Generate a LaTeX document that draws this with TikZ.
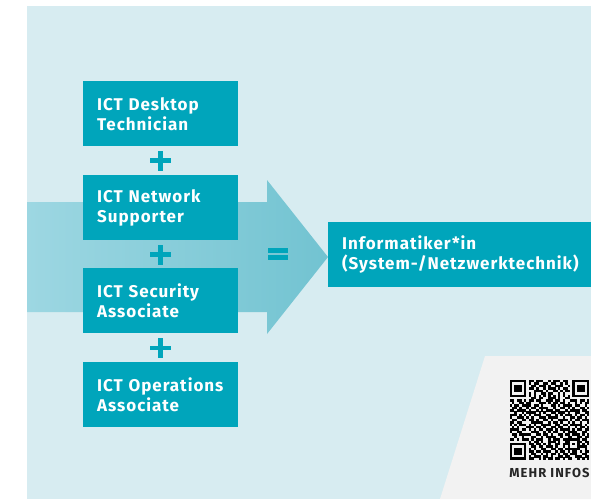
\documentclass[tikz,border=0pt]{standalone}
\usepackage{fontspec}
\setmainfont{Fira Sans}
\definecolor{panelc}{HTML}{D7ECF1}
\definecolor{boxc}{HTML}{00A5BB}
\definecolor{greyc}{HTML}{F2F2F2}
\definecolor{arrowl}{HTML}{9DD7E2}
\definecolor{arrowr}{HTML}{72C3D1}
\tikzset{
 course/.style={fill=boxc,text=white,minimum width=155pt,minimum height=65pt,inner sep=0pt,font=\bfseries\fontsize{17}{20}\selectfont\addfontfeature{LetterSpace=5.7},align=left,text width=127pt,anchor=north west},
 sign/.style={fill=boxc,draw=none}
}
\newcount\qrx
\newcount\qry
\def\qrscan#1{\ifx#1.\else\if#11\fill[black] ({509.5+\the\qrx*2.42},{380+\the\qry*2.42}) rectangle +(2.47,2.47);\fi\advance\qrx by 1 \expandafter\qrscan\fi}
\def\qrrow#1{\qrx=0 \qrscan#1.\advance\qry by 1 }
\begin{document}
\begin{tikzpicture}[x=1pt,y=-1pt]
\useasboundingbox (0,0) rectangle (591,499);
\fill[white] (0,0) rectangle (591,499);
\fill[panelc] (27,6) rectangle (591,499);
\shade[left color=arrowl,right color=arrowr] (27,202) -- (267,202) -- (267,180) -- (328,257) -- (267,334) -- (267,312) -- (27,312) -- cycle;
\node[course] (a) at (83,81) {ICT Desktop\\Technician};
\node[course] (b) at (83,175) {ICT Network\\Supporter};
\node[course] (c) at (83,268) {ICT Security\\Associate};
\node[course] (d) at (83,362) {ICT Operations\\Associate};
\node[course,minimum width=263pt,text width=235pt] (e) at (328,222) {Informatiker*in\\\mbox{(System-/Netzwerktechnik)}};
\foreach \cy in {160.5,254.5,348}{
 \fill[sign] (150,\cy-2.4) rectangle (171,\cy+2.4);
 \fill[sign] (158,\cy-10) rectangle (163.2,\cy+10);
}
\fill[sign] (267.5,248) rectangle (288,253.2);
\fill[sign] (267.5,255.2) rectangle (288,260);
\fill[greyc] (485,356) -- (591,356) -- (591,499) -- (440,499) -- cycle;
\qrrow{111111101101110010111011001111111}
\qrrow{100000101011001101100101001000001}
\qrrow{101110100110111010011100101011101}
\qrrow{101110101101001011101011001011101}
\qrrow{101110100011110100110101101011101}
\qrrow{100000101010011011001010001000001}
\qrrow{111111101010101010101010101111111}
\qrrow{000000000110110011101001100000000}
\qrrow{110110101101100111011010011101101}
\qrrow{010011011000111010110110100101011}
\qrrow{101101111011010001101011110110010}
\qrrow{011010010110111100100110101001101}
\qrrow{110111101001010111011001011110110}
\qrrow{001001011110101001101110100110011}
\qrrow{111010101011100110010101110101101}
\qrrow{100111010100111011110010011011010}
\qrrow{011001101101001101001111010110111}
\qrrow{110110000111110010110100101001001}
\qrrow{101011101010011110011011011111010}
\qrrow{010100011101101001101100100101101}
\qrrow{111101101010110111010111101011011}
\qrrow{100110000111001010110010111100110}
\qrrow{011011111001101101001101101110101}
\qrrow{001001000110010111100100110011011}
\qrrow{110101110101110010111011111110110}
\qrrow{000000001011010011101001100011011}
\qrrow{111111101101101010011011101010101}
\qrrow{100000100110110111010010100011110}
\qrrow{101110101010011001101101111110010}
\qrrow{101110101101101110010110101101011}
\qrrow{101110100110010101101011011100110}
\qrrow{100000101011101101001101100111011}
\qrrow{111111101100101011011010110010101}
\node[inner sep=0pt,anchor=center,font=\bfseries\fontsize{13}{15}\selectfont\addfontfeature{LetterSpace=8},text=black!85] (q) at (549.5,473) {MEHR INFOS};
\end{tikzpicture}
\end{document}
